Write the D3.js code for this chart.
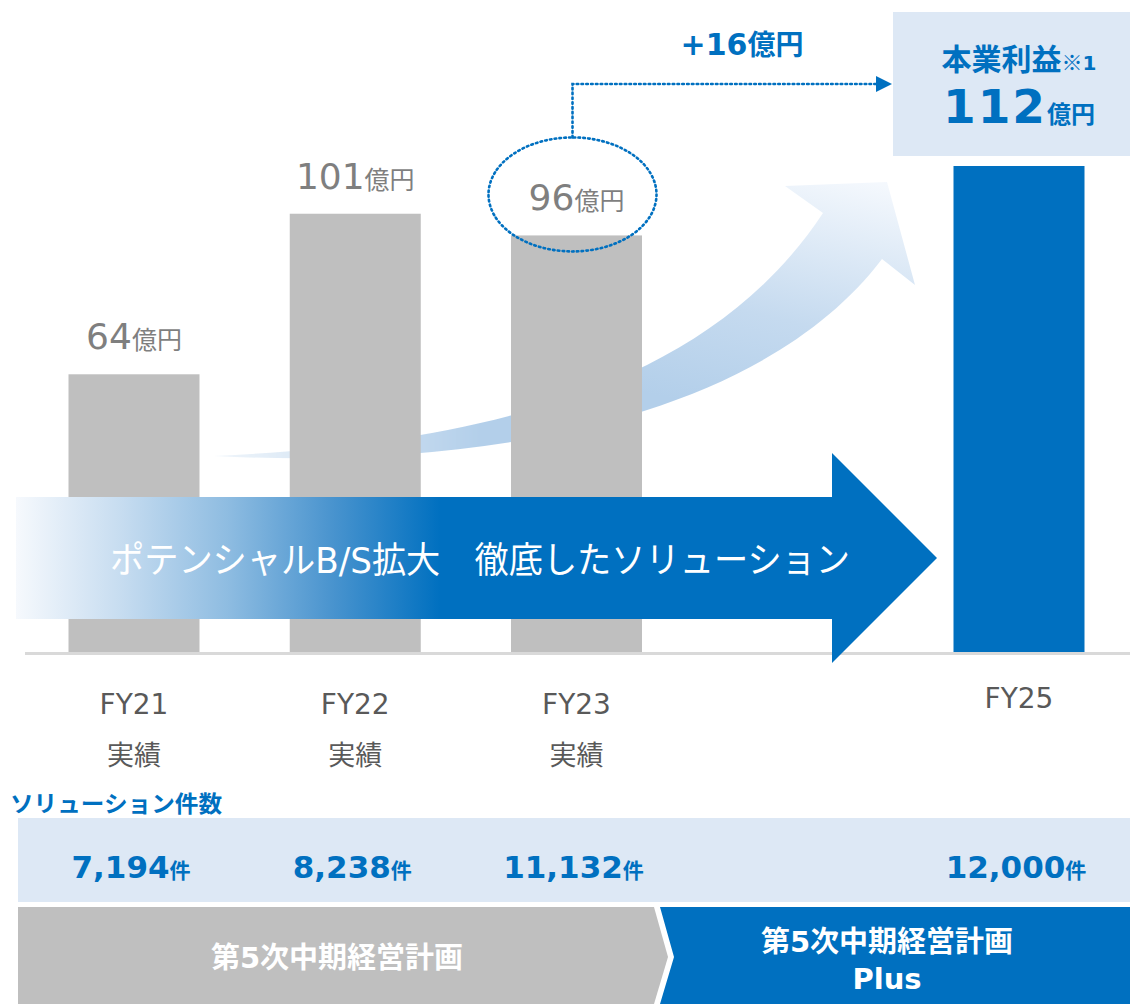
<!DOCTYPE html>
<html>
<head>
<meta charset="utf-8">
<script src="https://cdn.jsdelivr.net/npm/d3@7"></script>
<style>
body{margin:0;background:#fff}
text{font-family:"DejaVu Sans","Noto Sans CJK JP",sans-serif}
</style>
</head>
<body>
<svg id="chart" width="1130" height="1004"></svg>
<script>
/* 本業利益 FY21-FY25 + ソリューション件数 */
var categories = ["FY21","FY22","FY23","FY25"];
var fiscalYear = [21,22,23,25];
var stage = ["実績","実績","実績",""];
var profit = [64,101,96,112];           // 億円
var solutions = [7194,8238,11132,12000]; // 件
var planNames = ["第5次中期経営計画","第5次中期経営計画 Plus"];

var blue = "#0070c0", gray = "#bfbfbf";
var svg = d3.select("#chart");
var defs = svg.append("defs");

var x = d3.scaleLinear().domain([21,25]).range([134,1019]);
var y = d3.scaleLinear().domain([0,112]).range([652,166]);
var bw = 131;
var fmt = d3.format(",");

// gradients
var g1 = defs.append("linearGradient").attr("id","bigGrad")
    .attr("gradientUnits","userSpaceOnUse")
    .attr("x1",16).attr("y1",0).attr("x2",440).attr("y2",0);
[[0,"#f6f9fd"],[0.25,"#c6dcf0"],[0.5,"#8ebce1"],[0.75,"#4893ce"],[1,blue]]
    .forEach(function(s){ g1.append("stop").attr("offset",s[0]).attr("stop-color",s[1]); });

var g2 = defs.append("linearGradient").attr("id","curveGrad")
    .attr("gradientUnits","userSpaceOnUse")
    .attr("x1",820).attr("y1",170).attr("x2",760).attr("y2",420);
[[0,"#f4f8fd"],[0.6,"#c5daef"],[1,"#b3cfea"]]
    .forEach(function(s){ g2.append("stop").attr("offset",s[0]).attr("stop-color",s[1]); });

var g3 = defs.append("linearGradient").attr("id","tailGrad")
    .attr("gradientUnits","userSpaceOnUse")
    .attr("x1",214).attr("y1",0).attr("x2",480).attr("y2",0);
g3.append("stop").attr("offset",0).attr("stop-color","#fff").attr("stop-opacity",0.2);
g3.append("stop").attr("offset",1).attr("stop-color","#fff").attr("stop-opacity",1);
defs.append("mask").attr("id","tailMask")
    .append("rect").attr("x",0).attr("y",0).attr("width",1130).attr("height",1004)
    .attr("fill","url(#tailGrad)");

// curved growth arrow (behind bars)
svg.append("path")
    .attr("d","M214,456 C450,445 700,400 823,213 L785,186 L887,182 L915,285 L882,259 " +
	  "C760,420 480,470 214,456 Z")
    .attr("fill","url(#curveGrad)")
    .attr("mask","url(#tailMask)");

// baseline
svg.append("rect").attr("x",25).attr("y",652).attr("width",1105).attr("height",3)
    .attr("fill","#d9d9d9");

// bars
svg.selectAll("rect.bar").data(profit).enter().append("rect")
    .attr("class","bar")
    .attr("x",function(d,i){ return x(fiscalYear[i]) - bw/2; })
    .attr("y",function(d){ return y(d); })
    .attr("width",bw)
    .attr("height",function(d){ return y(0) - y(d); })
    .attr("fill",function(d,i){ return stage[i] ? gray : blue; });

// value labels for actuals
var vl = svg.selectAll("text.val").data(profit.slice(0,3)).enter().append("text")
    .attr("class","val")
    .attr("x",function(d,i){ return x(fiscalYear[i]); })
    .attr("y",function(d){ return y(d) - 25; })
    .attr("text-anchor","middle")
    .attr("fill","#7f7f7f");
vl.append("tspan").attr("font-size",36).text(function(d){ return d; });
vl.append("tspan").attr("font-size",25).attr("font-family","Noto Sans CJK JP").text("億円");

// dotted ellipse round FY23 label + connector
var cx = x(23) - 4, cy = y(96) - 41;
svg.append("ellipse").attr("cx",cx).attr("cy",cy).attr("rx",84).attr("ry",57)
    .attr("fill","none").attr("stroke",blue).attr("stroke-width",2.6)
    .attr("stroke-dasharray","1.6 3.2").attr("stroke-linecap","round");
svg.append("path").attr("d","M"+cx+","+(cy-57)+" V84 H878")
    .attr("fill","none").attr("stroke",blue).attr("stroke-width",2.6)
    .attr("stroke-dasharray","1.6 3.2").attr("stroke-linecap","round");
svg.append("path").attr("d","M876,76 L892,84 L876,92 Z").attr("fill",blue);

var diff = profit[3] - profit[2];
var dt = svg.append("text").attr("x",742).attr("y",55).attr("text-anchor","middle")
    .attr("fill",blue).attr("font-weight","bold");
dt.append("tspan").attr("font-size",30).text("+" + diff);
dt.append("tspan").attr("font-size",28).attr("font-family","Noto Sans CJK JP").text("億円");

// target box
svg.append("rect").attr("x",893).attr("y",12).attr("width",237).attr("height",144)
    .attr("fill","#dde8f5");
var t1 = svg.append("text").attr("x",x(25)).attr("y",70).attr("text-anchor","middle")
    .attr("fill",blue).attr("font-weight","bold");
t1.append("tspan").attr("font-size",30).attr("font-family","Noto Sans CJK JP").text("本業利益");
t1.append("tspan").attr("font-size",21).attr("font-family","Noto Sans CJK JP").text("※");
t1.append("tspan").attr("font-size",20).text("1");
var t2 = svg.append("text").attr("x",x(25)).attr("y",123).attr("text-anchor","middle")
    .attr("fill",blue).attr("font-weight","bold");
t2.append("tspan").attr("font-size",47).attr("letter-spacing",2).text(profit[3]);
t2.append("tspan").attr("font-size",24).attr("font-family","Noto Sans CJK JP").text("億円");

// big horizontal arrow
svg.append("path").attr("d","M16,497 H832 V453 L937,558 L832,663 V619 H16 Z")
    .attr("fill","url(#bigGrad)");
svg.append("text").attr("x",110).attr("y",560).attr("dy","0.36em")
    .attr("font-family","Noto Sans CJK JP").attr("font-size",36).attr("fill","#fff")
    .attr("textLength",740).attr("lengthAdjust","spacingAndGlyphs")
    .text("ポテンシャルB/S拡大　徹底したソリューション");

// x labels
svg.selectAll("text.cat").data(categories).enter().append("text")
    .attr("class","cat")
    .attr("x",function(d,i){ return x(fiscalYear[i]); })
    .attr("y",function(d,i){ return stage[i] ? 714 : 708; })
    .attr("text-anchor","middle").attr("font-size",28).attr("fill","#595959")
    .text(function(d){ return d; });
svg.selectAll("text.st").data(stage).enter().append("text")
    .attr("class","st")
    .attr("x",function(d,i){ return x(fiscalYear[i]); })
    .attr("y",765)
    .attr("text-anchor","middle").attr("font-size",27).attr("font-family","Noto Sans CJK JP")
    .attr("fill","#595959")
    .text(function(d){ return d; });

// solutions row
svg.append("text").attr("x",10).attr("y",812).attr("font-family","Noto Sans CJK JP")
    .attr("font-size",23).attr("font-weight","bold").attr("fill",blue)
    .attr("textLength",212).attr("lengthAdjust","spacingAndGlyphs")
    .text("ソリューション件数");
svg.append("rect").attr("x",18).attr("y",818).attr("width",1112).attr("height",84)
    .attr("fill","#dde8f5");
var sl = svg.selectAll("text.sol").data(solutions).enter().append("text")
    .attr("class","sol")
    .attr("x",function(d,i){ return x(fiscalYear[i]) - 3; })
    .attr("y",878)
    .attr("text-anchor","middle").attr("fill",blue).attr("font-weight","bold");
sl.append("tspan").attr("font-size",31).text(function(d){ return fmt(d); });
sl.append("tspan").attr("font-size",21).attr("font-family","Noto Sans CJK JP").text("件");

// plan period banners
svg.append("path").attr("d","M18,907 H654 L668,957 L654,1004 H18 Z").attr("fill",gray);
svg.append("path").attr("d","M660,907 H1130 V1004 H660 L674,957 Z").attr("fill",blue);
svg.append("text").attr("x",337).attr("y",958).attr("dy","0.36em").attr("text-anchor","middle")
    .attr("font-family","Noto Sans CJK JP").attr("font-size",29).attr("font-weight","bold")
    .attr("fill","#fff").text(planNames[0]);
var p2 = planNames[1].split(" ");
svg.append("text").attr("x",887).attr("y",942).attr("dy","0.36em").attr("text-anchor","middle")
    .attr("font-family","Noto Sans CJK JP").attr("font-size",29).attr("font-weight","bold")
    .attr("fill","#fff").text(p2[0]);
svg.append("text").attr("x",887).attr("y",979).attr("dy","0.36em").attr("text-anchor","middle")
    .attr("font-family","Noto Sans CJK JP").attr("font-size",29).attr("font-weight","bold")
    .attr("fill","#fff").text(p2[1]);
</script>
</body>
</html>
